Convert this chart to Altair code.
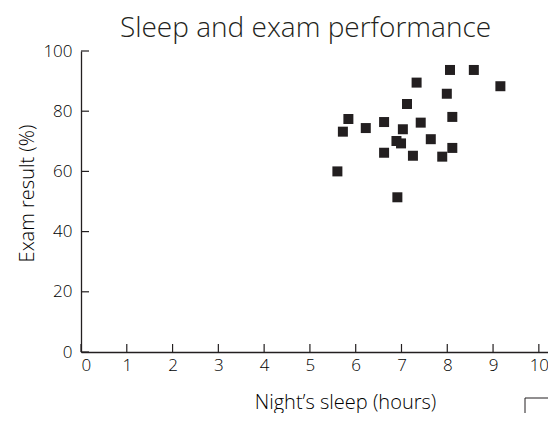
import altair as alt
import pandas as pd

sleep_hours = [8.06, 8.58, 7.33, 9.16, 7.99, 7.12, 5.84, 8.11, 6.62, 7.42, 5.72,
               6.22, 7.03, 6.89, 6.99, 7.64, 8.11, 6.62, 7.25, 7.89, 5.60, 6.91]
exam_result = [93.7, 93.7, 89.5, 88.3, 85.8, 82.4, 77.4, 78.1, 76.4, 76.2, 73.2,
               74.4, 74.0, 70.1, 69.3, 70.7, 67.8, 66.2, 65.2, 64.9, 60.0, 51.4]
x_ticks = [0, 1, 2, 3, 4, 5, 6, 7, 8, 9, 10]
y_ticks = [0, 20, 40, 60, 80, 100]

FONT = "Open Sans"
INK = "#231f20"
W, H = 467, 301

df = pd.DataFrame({"sleep": sleep_hours, "exam": exam_result})
xt = pd.DataFrame({"v": x_ticks})
yt = pd.DataFrame({"v": y_ticks})
dummy = pd.DataFrame({"a": [0]})

xscale = alt.Scale(domain=[0, 10.2], nice=False, zero=False)
yscale = alt.Scale(domain=[0, 100], nice=False)

points = alt.Chart(df).mark_square(size=100, color=INK, opacity=1).encode(
    x=alt.X("sleep:Q", scale=xscale,
            axis=alt.Axis(values=x_ticks, title="Night\u2019s sleep (hours)",
                          ticks=False, labelPadding=5, grid=False,
                          titleX=264, titleY=56, titleBaseline="alphabetic",
                          titleAlign="center",
                          titleFontSize=20, titleFontWeight=300)),
    y=alt.Y("exam:Q", scale=yscale,
            axis=alt.Axis(values=y_ticks, title="Exam result (%)",
                          ticks=False, labelPadding=9, grid=False,
                          titleX=-54, titleY=142, titleAngle=-90,
                          titleAlign="center", titleBaseline="middle",
                          titleFontSize=20, titleFontWeight=300)),
)

xtick_marks = alt.Chart(xt).mark_rule(color=INK, strokeWidth=1.2).encode(
    x=alt.X("v:Q", scale=xscale), y=alt.value(H - 8), y2=alt.value(H)
)
ytick_marks = alt.Chart(yt).mark_rule(color=INK, strokeWidth=1.2).encode(
    y=alt.Y("v:Q", scale=yscale), x=alt.value(0), x2=alt.value(8)
)

corner_v = alt.Chart(dummy).mark_rule(color=INK, strokeWidth=1).encode(
    x=alt.value(444), y=alt.value(347), y2=alt.value(362)
)
corner_h = alt.Chart(dummy).mark_rule(color=INK, strokeWidth=1).encode(
    x=alt.value(444), x2=alt.value(467), y=alt.value(347)
)

chart = alt.layer(xtick_marks, ytick_marks, points, corner_v, corner_h).properties(
    width=W, height=H,
    autosize=alt.AutoSizeParams(type="none"),
    padding={"left": 73, "top": 43, "right": 0, "bottom": 61},
    title=alt.TitleParams("Sleep and exam performance", fontSize=28,
                          font=FONT, fontWeight=300, color=INK,
                          anchor="middle", dx=-9, dy=9, offset=8),
).configure_view(stroke=None).configure_axis(
    domainColor=INK, domainWidth=1.3, labelFont=FONT, labelFontSize=17,
    labelFontWeight=300, labelColor="#000000", titleFont=FONT, titleColor="#000000"
)

chart.save("out.html", embed_options={"renderer": "svg", "actions": False})
